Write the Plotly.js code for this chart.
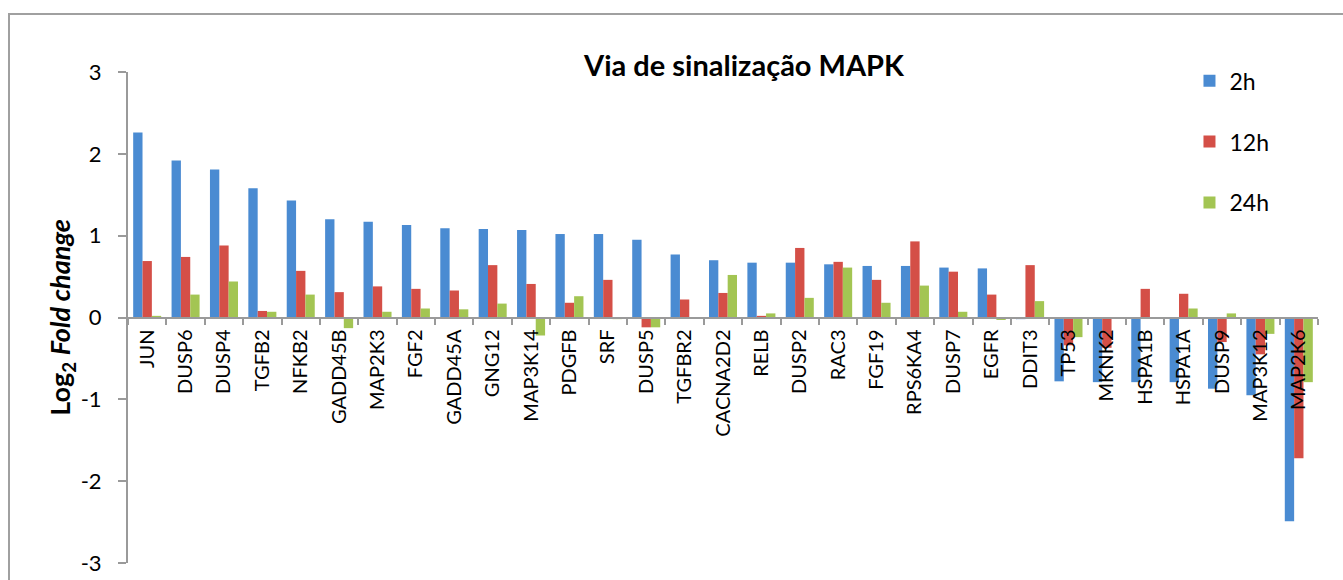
<!DOCTYPE html>
<html>
<head>
<meta charset="utf-8">
<script src="https://cdn.plot.ly/plotly-3.0.1.min.js"></script>
<style>
  html, body { margin: 0; padding: 0; background: #fff; }
  #chart { width: 1343px; height: 580px; }
</style>
</head>
<body>
<div id="chart"></div>
<script>
// Genes on the x axis, in chart order
const genes = ['JUN', 'DUSP6', 'DUSP4', 'TGFB2', 'NFKB2', 'GADD45B', 'MAP2K3', 'FGF2', 'GADD45A', 'GNG12',
    'MAP3K14', 'PDGFB', 'SRF', 'DUSP5', 'TGFBR2', 'CACNA2D2', 'RELB', 'DUSP2', 'RAC3', 'FGF19',
    'RPS6KA4', 'DUSP7', 'EGFR', 'DDIT3', 'TP53', 'MKNK2', 'HSPA1B', 'HSPA1A', 'DUSP9', 'MAP3K12', 'MAP2K6'];

// log2 fold change per time point
const fc2h = [2.26, 1.92, 1.81, 1.58, 1.43, 1.20, 1.17, 1.13, 1.09, 1.08,
    1.07, 1.02, 1.02, 0.95, 0.77, 0.70, 0.67, 0.67, 0.65, 0.63,
    0.63, 0.61, 0.60, -0.02, -0.78, -0.79, -0.79, -0.79, -0.87, -0.95, -2.49];
const fc12h = [0.69, 0.74, 0.88, 0.08, 0.57, 0.31, 0.38, 0.35, 0.33, 0.64,
    0.41, 0.18, 0.46, -0.12, 0.22, 0.30, 0.02, 0.85, 0.68, 0.46,
    0.93, 0.56, 0.28, 0.64, -0.34, -0.37, 0.35, 0.29, -0.30, -0.45, -1.72];
const fc24h = [0.02, 0.28, 0.44, 0.07, 0.28, -0.13, 0.07, 0.11, 0.10, 0.17,
    -0.22, 0.26, -0.02, -0.12, 0, 0.52, 0.05, 0.24, 0.61, 0.18,
    0.39, 0.07, -0.03, 0.20, -0.24, 0, 0, 0.11, 0.05, -0.20, -0.79];

const seriesNames = ['2h', '12h', '24h'];
const seriesColors = ['#4A8BD2', '#D44F47', '#A3C553'];

// y ticks, written with a plain hyphen like the original
const yTicks = [-3, -2, -1, 0, 1, 2, 3];
const yTickText = ['-3', '-2', '-1', '0', '1', '2', '3'];

const font = 'Lato, "Open Sans", sans-serif';

const traces = [fc2h, fc12h, fc24h].map((vals, i) => ({
    type: 'bar',
    name: seriesNames[i],
    legendgroup: seriesNames[i],
    x: genes,
    y: vals,
    marker: { color: seriesColors[i], line: { width: 0 } }
}));

const layout = {
    width: 1343,
    height: 580,
    margin: { l: 128, r: 25, t: 72, b: 17 },
    paper_bgcolor: '#fff',
    plot_bgcolor: 'rgba(0,0,0,0)',
    font: { family: font, color: '#000' },
    barmode: 'group',
    bargap: 0.27,
    bargroupgap: 0,
    showlegend: true,
    title: {
        text: '<b>Via de sinalização MAPK</b>',
        font: { size: 29, family: font },
        xref: 'container', x: 0.554, xanchor: 'center',
        yref: 'container', y: 0.886, yanchor: 'middle'
    },
    xaxis: {
        type: 'category',
        anchor: 'free',
        position: 0.5,
        showline: true,
        linecolor: '#9a9a9a',
        linewidth: 2,
        ticks: 'outside',
        tickson: 'boundaries',
        ticklen: 6,
        tickcolor: '#9a9a9a',
        tickwidth: 2,
        tickangle: -90,
        ticklabelstandoff: 3,
        tickfont: { size: 20 },
        showgrid: false,
        zeroline: false
    },
    yaxis: {
        range: [-3, 3],
        tickmode: 'array',
        tickvals: yTicks,
        ticktext: yTickText,
        showline: true,
        linecolor: '#9a9a9a',
        linewidth: 2,
        ticks: 'outside',
        ticklen: 8,
        tickcolor: '#9a9a9a',
        tickwidth: 2,
        ticklabelstandoff: 12,
        tickfont: { size: 22 },
        showgrid: false,
        zeroline: false,
        title: {
            text: '<b>Log<sub>2</sub> <i>Fold change</i></b>',
            font: { size: 27 },
            standoff: 2
        }
    },
    legend: {
        x: 0.892, xanchor: 'left',
        y: 1.026, yanchor: 'top',
        font: { size: 23 },
        tracegroupgap: 28,
        itemwidth: 30,
        bgcolor: 'rgba(0,0,0,0)'
    },
    shapes: [{
        type: 'rect', xref: 'paper', yref: 'paper',
        x0: -0.1, x1: 1.05, y0: -0.2, y1: 1.118,
        line: { color: '#a0a0a0', width: 2 }
    }]
};

Plotly.newPlot('chart', traces, layout, { displayModeBar: false });
</script>
</body>
</html>
